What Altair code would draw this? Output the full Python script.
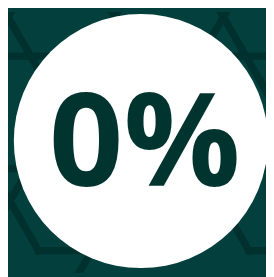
import altair as alt
import pandas as pd

# Background pattern segments (pixel coordinates of the reference)
seg_x1 = [-5.3, 21.3, 104.7, 131.3, 216.7, 243.3, -10, -10, -9.3, 29.3, 39.4, 143.3, 104.7, 207.7, 246.3, 256.4]
seg_y1 = [-10, -10, -10, -10, -10, -10, 53.5, 169.5, 169.5, 169.5, 254, 169.5, 169.5, 169.5, 169.5, 254]
seg_x2 = [44.9, -10.5, 140, 100.1, 290, 205.2, 290, 290, 39.4, -22.9, 95, 73.8, 153.4, 256.4, 197.6, 290]
seg_y2 = [77, 45, 51, 44, 117, 56, 53.5, 169.5, 254, 260, 254, 290, 254, 254, 254, 254]

# Badge circle
circle_x = [145]
circle_y = [141]
circle_d = 262

# Label
label = ["0%"]
label_x = [149]
label_y = [187]

BG = "#023f3d"
LINE = "#00312e"
TEXT = "#01332f"

segs = pd.DataFrame({"x1": seg_x1, "y1": seg_y1, "x2": seg_x2, "y2": seg_y2})
circ = pd.DataFrame({"x": circle_x, "y": circle_y})
txt = pd.DataFrame({"x": label_x, "y": label_y, "t": label})

xs = alt.Scale(domain=[8, 274], nice=False, zero=False)
ys = alt.Scale(domain=[8, 277], nice=False, zero=False, reverse=True)

rules = alt.Chart(segs).mark_rule(color=LINE, strokeWidth=7.5, strokeCap="square", clip=True).encode(
    x=alt.X("x1:Q", scale=xs, axis=None),
    y=alt.Y("y1:Q", scale=ys, axis=None),
    x2="x2:Q",
    y2="y2:Q",
)

circle = alt.Chart(circ).mark_circle(color="white", opacity=1, size=circle_d ** 2, clip=True).encode(
    x=alt.X("x:Q", scale=xs, axis=None),
    y=alt.Y("y:Q", scale=ys, axis=None),
)

text = alt.Chart(txt).mark_text(
    font="Open Sans", fontWeight="bold", fontSize=134, color=TEXT,
    align="center", baseline="alphabetic"
).encode(
    x=alt.X("x:Q", scale=xs, axis=None),
    y=alt.Y("y:Q", scale=ys, axis=None),
    text="t:N",
)

chart = alt.layer(rules, circle, text).properties(
    width=266, height=269, padding=0, autosize="none", background=BG
).configure_view(stroke=None)

chart.save("out.html", embed_options={"renderer": "svg", "actions": False})
